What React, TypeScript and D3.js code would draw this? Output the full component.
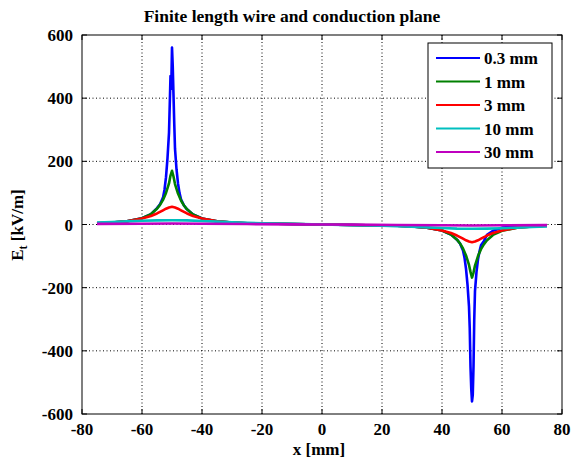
import React from "react";
import * as d3 from "d3";

const xTicks = [-80, -60, -40, -20, 0, 20, 40, 60, 80];
const yTicks = [-600, -400, -200, 0, 200, 400, 600];
const seriesNames = ["0.3 mm", "1 mm", "3 mm", "10 mm", "30 mm"];
const seriesColors = ["#0000ff", "#008000", "#ff0000", "#00bfbf", "#bf00bf"];

// 0.3 mm
const x03 = [
  -75, -70, -65, -60, -57, -55, -54, -53, -52.5, -52, -51.5, -51, -50.75, -50.5, -50.25, -50, -49.75, -49.5, -49.25, -49, -48.5, -48, -47.5, -47, -46, -45, -43, -40, -35, -30, -25, -20, -10,
  0,
  10, 20, 25, 30, 35, 40, 43, 45, 46, 47, 47.5, 48, 48.5, 49, 49.25, 49.5, 49.75, 50, 50.25, 50.5, 50.75, 51, 51.5, 52, 52.5, 53, 54, 55, 57, 60, 65, 70, 75,
];
const e03 = [
  4, 6, 10, 20, 33, 52, 64, 85, 110, 150, 210, 290, 380, 470, 430, 560, 500, 410, 320, 240, 175, 130, 100, 80, 60, 48, 32, 19, 10, 6, 4, 3, 1.5,
  0,
  -1.5, -3, -4, -6, -10, -19, -32, -48, -60, -82, -105, -140, -190, -260, -330, -450, -520, -560, -540, -450, -300, -210, -150, -110, -85, -66, -52, -33, -20, -10, -6, -4,
];

// 1 mm
const x1 = [
  -75, -70, -65, -60, -57, -55, -54, -53, -52, -51, -50.5, -50, -49.5, -49, -48, -47, -46, -45, -43, -40, -35, -30, -25, -20, -10,
  0,
  10, 20, 25, 30, 35, 40, 43, 45, 46, 47, 48, 49, 49.5, 50, 50.5, 51, 52, 53, 54, 55, 57, 60, 65, 70, 75,
];
const e1 = [
  4, 6, 10, 20, 33, 50, 62, 78, 100, 130, 155, 170, 152, 128, 98, 76, 60, 48, 32, 19, 10, 6, 4, 3, 1.5,
  0,
  -1.5, -3, -4, -6, -10, -19, -32, -48, -60, -76, -98, -128, -150, -168, -152, -130, -100, -78, -62, -50, -33, -20, -10, -6, -4,
];

// 3 mm
const x3 = [
  -75, -70, -65, -60, -57, -55, -53, -52, -51, -50, -49, -48, -47, -45, -43, -40, -35, -30, -25, -20, -10,
  0,
  10, 20, 25, 30, 35, 40, 43, 45, 47, 48, 49, 50, 51, 52, 53, 55, 57, 60, 65, 70, 75,
];
const e3 = [
  4, 6, 10, 19, 27, 35, 45, 50, 54, 56, 54, 50, 45, 35, 27, 19, 10, 6, 4, 3, 1.5,
  0,
  -1.5, -3, -4, -6, -10, -19, -27, -35, -45, -50, -54, -56, -54, -50, -45, -35, -27, -19, -10, -6, -4,
];

// 10 mm
const x10 = [-75, -70, -65, -60, -55, -50, -45, -40, -35, -30, -25, -20, -10, 0, 10, 20, 25, 30, 35, 40, 45, 50, 55, 60, 65, 70, 75];
const e10 = [6, 8, 10, 12, 13, 13.5, 13, 11, 9, 7, 5, 4, 2, 0, -2, -4, -5, -7, -9, -11, -13, -13.5, -13, -12, -10, -8, -6];

// 30 mm
const x30 = [-75, -60, -50, -40, -25, -10, 0, 10, 25, 40, 50, 60, 75];
const e30 = [2, 2.5, 3, 2.5, 1.5, 0.5, 0, -0.5, -1.5, -2.5, -3, -2.5, -2];

const seriesX = [x03, x1, x3, x10, x30];
const seriesY = [e03, e1, e3, e10, e30];

const W = 573;
const H = 461;
const L = 82;
const R = 562;
const T = 35;
const B = 414;
const FONT = "'Liberation Serif', 'Times New Roman', serif";

export default function App() {
  const x = d3.scaleLinear().domain([-80, 80]).range([L, R]);
  const y = d3.scaleLinear().domain([-600, 600]).range([B, T]);
  const line = d3
    .line<[number, number]>()
    .x((d) => x(d[0]))
    .y((d) => y(d[1]));

  const legX = 428;
  const legY = 43;
  const legW = 124;
  const legH = 125;

  return (
    <svg
      width={W}
      height={H}
      style={{ position: "absolute", left: 0, top: 0, background: "#fff", fontFamily: FONT, fontWeight: "bold" }}
    >
      <rect x={0} y={0} width={W} height={H} fill="#fff" />
      <rect x={L} y={T} width={R - L} height={B - T} fill="#fff" />
      {/* grid */}
      {xTicks.slice(1, -1).map((t) => (
        <line key={"gx" + t} x1={x(t)} x2={x(t)} y1={T} y2={B} stroke="#000" strokeWidth={1} strokeDasharray="1 2.5" />
      ))}
      {yTicks.slice(1, -1).map((t) => (
        <line key={"gy" + t} x1={L} x2={R} y1={y(t)} y2={y(t)} stroke="#000" strokeWidth={1} strokeDasharray="1 2.5" />
      ))}
      {/* series */}
      {seriesX.map((xs, i) => (
        <path
          key={"s" + i}
          d={line(xs.map((v, j) => [v, seriesY[i][j]] as [number, number])) || ""}
          fill="none"
          stroke={seriesColors[i]}
          strokeWidth={2.6}
          strokeLinejoin="round"
        />
      ))}
      {/* box */}
      <rect x={L} y={T} width={R - L} height={B - T} fill="none" stroke="#000" strokeWidth={1} />
      {/* ticks */}
      {xTicks.map((t) => (
        <g key={"tx" + t}>
          <line x1={x(t)} x2={x(t)} y1={B} y2={B - 5} stroke="#000" />
          <line x1={x(t)} x2={x(t)} y1={T} y2={T + 5} stroke="#000" />
          <text x={x(t)} y={435} textAnchor="middle" fontSize={17} fill="#000">
            {t}
          </text>
        </g>
      ))}
      {yTicks.map((t) => (
        <g key={"ty" + t}>
          <line x1={L} x2={L + 5} y1={y(t)} y2={y(t)} stroke="#000" />
          <line x1={R} x2={R - 5} y1={y(t)} y2={y(t)} stroke="#000" />
          <text x={73} y={y(t) + 6} textAnchor="end" fontSize={17} fill="#000">
            {t}
          </text>
        </g>
      ))}
      {/* title */}
      <text x={292} y={22} textAnchor="middle" fontSize={17.5} fill="#000">
        Finite length wire and conduction plane
      </text>
      {/* x label */}
      <text x={319} y={455} textAnchor="middle" fontSize={17} fill="#000">
        x [mm]
      </text>
      {/* y label */}
      <text transform={`translate(23,225) rotate(-90)`} textAnchor="middle" fontSize={17} fill="#000">
        E<tspan fontSize={12} dy={4}>t</tspan>
        <tspan dy={-4}> [kV/m]</tspan>
      </text>
      {/* legend */}
      <rect x={legX} y={legY} width={legW} height={legH} fill="#fff" stroke="#000" strokeWidth={1} />
      {seriesNames.map((n, i) => {
        const cy = 58 + i * 23.5;
        return (
          <g key={"lg" + i}>
            <line x1={436} x2={480} y1={cy} y2={cy} stroke={seriesColors[i]} strokeWidth={2} />
            <text x={484} y={cy + 6} fontSize={17} fill="#000">
              {n}
            </text>
          </g>
        );
      })}
    </svg>
  );
}
